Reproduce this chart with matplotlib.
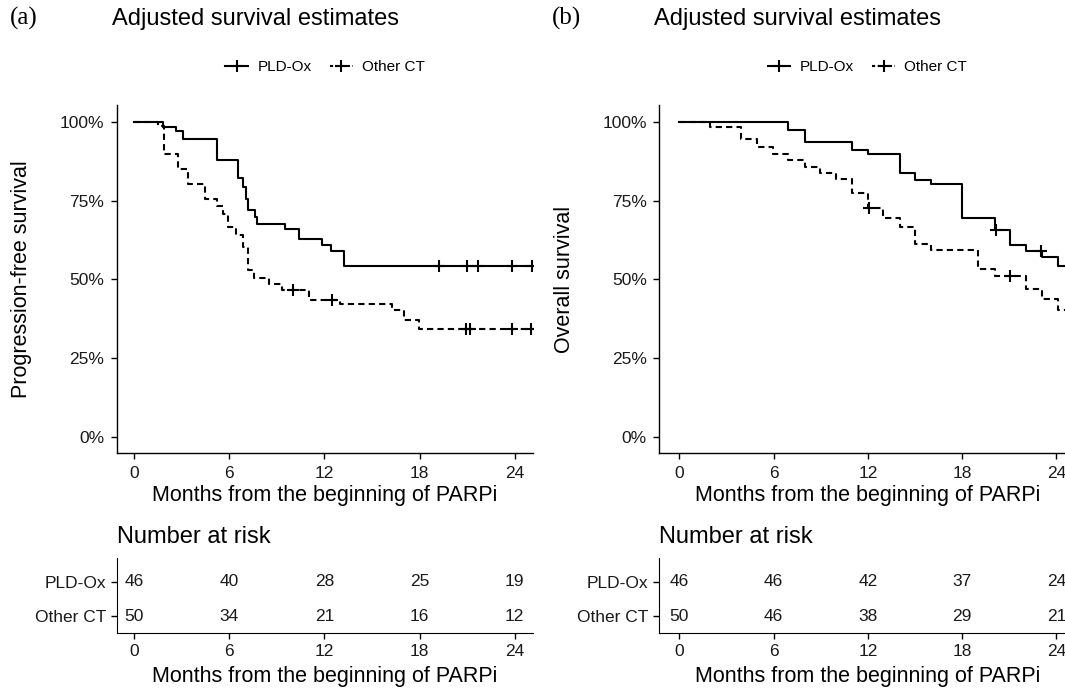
import numpy as np
import matplotlib
matplotlib.use('Agg')
import matplotlib.pyplot as plt
from matplotlib.lines import Line2D

plt.rcParams['font.family'] = ['Liberation Sans', 'DejaVu Sans']

# ---- data (months, survival %) ----
groups = ['PLD-Ox', 'Other CT']

# (a) progression-free survival
pfs_ox_t = [0, 1.85, 2.65, 3.1, 5.26, 6.56, 6.9, 7.05, 7.2, 7.6, 7.78, 9.53, 10.43, 11.84, 12.43, 13.25, 25.3]
pfs_ox_s = [100, 98.2, 97.2, 94.5, 87.9, 82.2, 79.2, 75.5, 72.0, 69.7, 67.6, 65.9, 62.8, 61.0, 58.9, 54.1, 54.1]
pfs_ox_cens = [19.2, 21.0, 21.7, 23.8, 25.1]

pfs_ct_t = [0, 1.54, 1.91, 2.8, 3.43, 4.48, 5.22, 5.64, 5.95, 6.44, 6.9, 7.2, 7.57, 8.48, 9.3, 11.0, 12.96,
            16.26, 17.0, 17.94, 25.3]
pfs_ct_s = [100, 98.7, 89.6, 85.0, 80.1, 75.5, 73.4, 70.8, 66.5, 63.9, 60.2, 52.8, 50.4, 48.6, 46.5, 43.4, 42.1,
            40.2, 37.0, 34.1, 34.1]
pfs_ct_cens = [10.05, 12.5, 20.9, 21.2, 23.8, 25.0]

# (b) overall survival
os_ox_t = [0, 6.93, 7.99, 11.02, 12.02, 14.03, 14.99, 16.05, 18.02, 20.08, 21.07, 22.09, 23.1, 24.1, 26]
os_ox_s = [100, 97.4, 93.5, 91.1, 89.6, 83.6, 81.6, 80.3, 69.5, 65.5, 60.8, 58.9, 57.1, 54.1, 54.1]
os_ox_cens = [20.15, 23.05]

os_ct_t = [0, 1.95, 3.96, 4.92, 5.98, 6.93, 7.99, 8.95, 10.0, 11.02, 12.02, 12.97, 14.03, 14.99, 16.05, 19.02,
           20.08, 22.09, 23.1, 24.1, 26]
os_ct_s = [100, 98.4, 94.5, 91.9, 89.8, 87.9, 85.5, 83.6, 81.9, 77.3, 72.5, 69.5, 66.6, 61.3, 59.2, 53.4,
           51.1, 46.8, 43.6, 40.4, 40.4]
os_ct_cens = [12.05, 21.03]

risk_times = [0, 6, 12, 18, 24]
pfs_risk_ox = [46, 40, 28, 25, 19]
pfs_risk_ct = [50, 34, 21, 16, 12]
os_risk_ox = [46, 46, 42, 37, 24]
os_risk_ct = [50, 46, 38, 29, 21]

W, H = 1065, 688
fig = plt.figure(figsize=(W / 100, H / 100), dpi=100)
fig.patch.set_facecolor('white')

dash = (0, (3, 2))
txt = '#1a1a1a'


def surv_at(t, s, x):
    idx = np.searchsorted(t, x, side='right') - 1
    return np.array(s)[idx] / 100


def draw_panel(left, width, xlim, tag, ylabel, curves, risk_ox, risk_ct):
    ax = fig.add_axes([left / W, 1 - 453.3 / H, width / W, 348.3 / H])
    for t, s, cens, ls in curves:
        ax.step(t, np.array(s) / 100, where='post', color='black', lw=1.5, ls=ls)
        ax.plot(cens, surv_at(t, s, cens), ls='none', marker='+', ms=8.5, mew=1.5, color='black')
    ax.set_xlim(*xlim)
    ax.set_ylim(-0.052, 1.053)
    ax.set_xticks(risk_times)
    ax.set_yticks([0, 0.25, 0.5, 0.75, 1.0])
    ax.set_yticklabels(['0%', '25%', '50%', '75%', '100%'])
    for sp in ['top', 'right']:
        ax.spines[sp].set_visible(False)
    for sp in ['left', 'bottom']:
        ax.spines[sp].set_linewidth(1.0)
    ax.tick_params(labelsize=12.5, labelcolor=txt, length=4, width=1.0, pad=5)
    ax.set_xlabel('Months from the beginning of PARPi', fontsize=15.5)
    ax.xaxis.set_label_coords((left + 208) / W, 1 - 495 / H, transform=fig.transFigure)
    ax.xaxis.label.set_va('center')
    ax.set_ylabel(ylabel, fontsize=15.5)
    ax.yaxis.set_label_coords((left - 95.3) / W, 1 - 279 / H, transform=fig.transFigure)
    ax.yaxis.label.set_va('center')

    fig.text((left - 107) / W, 1 - 18 / H, tag, family='Liberation Serif', fontsize=18, va='center')
    fig.text((left - 5) / W, 1 - 19 / H, 'Adjusted survival estimates', fontsize=17, va='center')

    handles = [Line2D([], [], color='black', lw=1.5, marker='+', ms=8.5, mew=1.5),
               Line2D([], [], color='black', lw=1.5, ls=(0, (1.5, 1.2)), marker='+', ms=8.5, mew=1.5)]
    fig.legend(handles, groups, loc='center', bbox_to_anchor=((left + 208) / W, 1 - 67 / H), ncol=2,
               frameon=False, fontsize=11, handlelength=1.5, handletextpad=0.6, columnspacing=1.2)

    # risk table
    rt = fig.add_axes([left / W, 1 - 633.3 / H, width / W, 75.3 / H])
    for x, a, b in zip(risk_times, risk_ox, risk_ct):
        rt.text(x, 2, str(a), ha='center', va='center', fontsize=12.5, color=txt)
        rt.text(x, 1, str(b), ha='center', va='center', fontsize=12.5, color=txt)
    rt.set_xlim(*xlim)
    rt.set_ylim(0.5, 2.7)
    rt.set_xticks(risk_times)
    rt.set_yticks([2, 1])
    rt.set_yticklabels(groups)
    for sp in ['top', 'right']:
        rt.spines[sp].set_visible(False)
    rt.tick_params(labelsize=12.5, labelcolor=txt, length=4, width=1.0, pad=4)
    rt.set_xlabel('Months from the beginning of PARPi', fontsize=15.5)
    rt.xaxis.set_label_coords((left + 208) / W, 1 - 676.7 / H, transform=fig.transFigure)
    rt.xaxis.label.set_va('center')
    fig.text((left - 0.3) / W, 1 - 536.7 / H, 'Number at risk', fontsize=17, va='center')


draw_panel(117, 415.7, (-1.07, 25.13), '(a)', 'Progression-free survival',
           [(pfs_ox_t, pfs_ox_s, pfs_ox_cens, '-'), (pfs_ct_t, pfs_ct_s, pfs_ct_cens, dash)],
           pfs_risk_ox, pfs_risk_ct)
draw_panel(659.3, 420.7, (-1.27, 25.5), '(b)', 'Overall survival',
           [(os_ox_t, os_ox_s, os_ox_cens, '-'), (os_ct_t, os_ct_s, os_ct_cens, dash)],
           os_risk_ox, os_risk_ct)

fig.savefig('out.png', dpi=100)
